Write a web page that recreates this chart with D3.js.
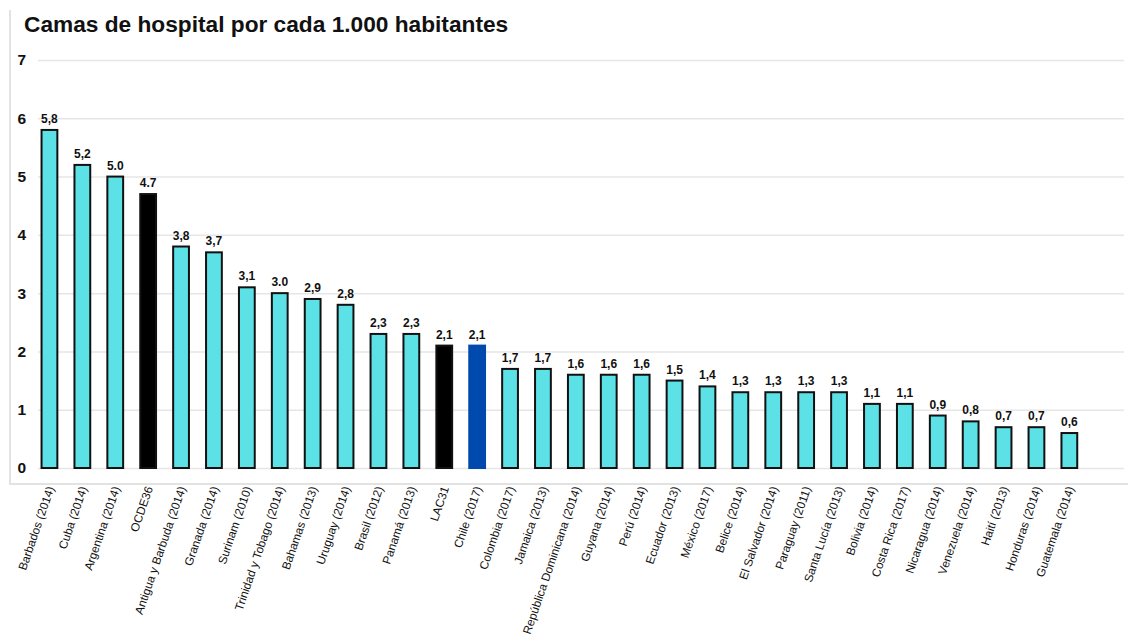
<!DOCTYPE html>
<html>
<head>
<meta charset="utf-8">
<script src="https://cdn.jsdelivr.net/npm/d3@7/dist/d3.min.js"></script>
<style>
  html, body { margin: 0; padding: 0; background: #fff; }
  svg { display: block; font-family: "Liberation Sans", Arial, sans-serif; }
</style>
</head>
<body>
<svg id="chart" width="1128" height="638"></svg>
<script>
// Hospital beds per 1,000 inhabitants, by country (year of data)
const categories = [
  "Barbados (2014)", "Cuba (2014)", "Argentina (2014)", "OCDE36",
  "Antigua y Barbuda (2014)", "Granada (2014)", "Surinam (2010)",
  "Trinidad y Tobago (2014)", "Bahamas (2013)", "Uruguay (2014)",
  "Brasil (2012)", "Panamá (2013)", "LAC31", "Chile (2017)",
  "Colombia (2017)", "Jamaica (2013)", "República Dominicana (2014)",
  "Guyana (2014)", "Perú (2014)", "Ecuador (2013)", "México (2017)",
  "Belice (2014)", "El Salvador (2014)", "Paraguay (2011)",
  "Santa Lucía (2013)", "Bolivia (2014)", "Costa Rica (2017)",
  "Nicaragua (2014)", "Venezuela (2014)", "Haití (2013)",
  "Honduras (2014)", "Guatemala (2014)"
];
const values = [
  5.8, 5.2, 5.0, 4.7, 3.8, 3.7, 3.1, 3.0, 2.9, 2.8, 2.3, 2.3, 2.1, 2.1,
  1.7, 1.7, 1.6, 1.6, 1.6, 1.5, 1.4, 1.3, 1.3, 1.3, 1.3, 1.1, 1.1,
  0.9, 0.8, 0.7, 0.7, 0.6
];
// Value labels as printed (the source mixes decimal comma and point)
const valueLabels = [
  "5,8", "5,2", "5.0", "4.7", "3,8", "3,7", "3,1", "3.0", "2,9", "2,8",
  "2,3", "2,3", "2,1", "2,1", "1,7", "1,7", "1,6", "1,6", "1,6", "1,5",
  "1,4", "1,3", "1,3", "1,3", "1,3", "1,1", "1,1", "0,9", "0,8", "0,7",
  "0,7", "0,6"
];
const yTicks = [0, 1, 2, 3, 4, 5, 6, 7];
const aggregates = ["OCDE36", "LAC31"];
const highlight = ["Chile (2017)"];

const svg = d3.select("#chart");

const x = d3.scaleBand()
  .domain(categories)
  .range([33, 1085.8])
  .paddingInner(0.52)
  .paddingOuter(0.26);

const y = d3.scaleLinear().domain([0, 7]).range([468, 60]);

// Outer frame (left and bottom edges)
svg.append("path")
  .attr("d", "M10,10 V484 H1128")
  .attr("fill", "none")
  .attr("stroke", "#e2e2e2")
  .attr("stroke-width", 2);

// Title
svg.append("text")
  .attr("x", 24).attr("y", 32)
  .attr("font-size", 22.7).attr("font-weight", "bold").attr("fill", "#111")
  .text("Camas de hospital por cada 1.000 habitantes");

// Horizontal grid and y tick labels
const yAxis = d3.axisLeft(y).tickValues(yTicks).tickFormat(d3.format("d"))
  .tickSize(-(1124 - 38)).tickPadding(12);
const gy = svg.append("g").attr("transform", "translate(38,0)").call(yAxis);
gy.select(".domain").remove();
gy.selectAll(".tick line").attr("stroke", "#e6e6e6").attr("stroke-width", 1.5);
gy.selectAll(".tick text")
  .attr("font-size", 15.5).attr("font-weight", "bold").attr("fill", "#111")
  .attr("font-family", "Liberation Sans, Arial, sans-serif");

// Bars
const fillFor = d => aggregates.includes(d) ? "#000" : highlight.includes(d) ? "#0049ad" : "#5ce1e6";
const strokeFor = d => highlight.includes(d) ? "#0049ad" : "#111";

svg.append("g").selectAll("rect")
  .data(categories)
  .join("rect")
  .attr("x", d => x(d))
  .attr("width", x.bandwidth())
  .attr("y", (d, i) => y(values[i]))
  .attr("height", (d, i) => y(0) - y(values[i]))
  .attr("fill", fillFor)
  .attr("stroke", strokeFor)
  .attr("stroke-width", 2);

// Value labels above bars
svg.append("g").selectAll("text")
  .data(categories)
  .join("text")
  .attr("x", d => x(d) + x.bandwidth() / 2)
  .attr("y", (d, i) => y(values[i]) - 7)
  .attr("text-anchor", "middle")
  .attr("font-size", 12).attr("font-weight", "bold").attr("fill", "#111")
  .text((d, i) => valueLabels[i]);

// Rotated category labels
const xAxis = d3.axisBottom(x).tickSize(0).tickPadding(0);
const gx = svg.append("g").attr("transform", "translate(0,468)").call(xAxis);
gx.select(".domain").remove();
gx.selectAll(".tick text")
  .attr("font-size", 11.8).attr("fill", "#111")
  .attr("font-family", "Liberation Sans, Arial, sans-serif")
  .attr("text-anchor", "end")
  .attr("dy", null)
  .attr("transform", "translate(5,20) rotate(-71)");
</script>
</body>
</html>
